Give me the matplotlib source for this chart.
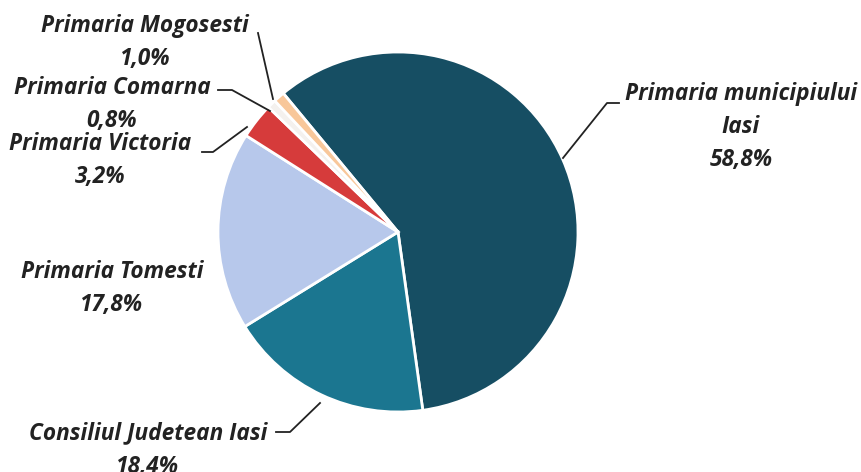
import matplotlib
matplotlib.use('Agg')
import matplotlib.pyplot as plt

# slices, clockwise from the top-left boundary
names  = ["Primaria municipiului\nIasi", "Consiliul Judetean Iasi", "Primaria Tomesti",
          "Primaria Victoria", "Primaria Comarna", "Primaria Mogosesti"]
shares = [58.8, 18.4, 17.8, 3.2, 0.8, 1.0]
colors = ["#164e63", "#1b7690", "#b7c8eb", "#d63b3b", "#f4f1ee", "#f8c79a"]

W, H = 861, 472
CX, CY, R = 398, 232, 180

fig = plt.figure(figsize=(W / 100, H / 100), dpi=100)
ax = fig.add_axes([(CX - R) / W, (H - CY - R) / H, 2 * R / W, 2 * R / H])

ax.pie(shares, colors=colors, startangle=129.6, counterclock=False, radius=1,
       wedgeprops=dict(edgecolor="white", linewidth=2))
ax.set_xlim(-1, 1)
ax.set_ylim(-1, 1)
ax.set_aspect('equal')
ax.axis('off')


def px(x, y):
    return ((x - CX) / R, (CY - y) / R)


# label centres (pixels) and leader polylines
label_pos = [(741, 127), (148, 450), (112, 288), (100, 160), (112, 104), (145, 42)]
leaders = [
    [(619, 103), (607, 103), (563, 158)],
    [(276, 432), (290, 432), (320, 403)],
    None,
    [(202, 152), (213, 152), (247, 127)],
    [(218, 90), (232, 90), (270, 111)],
    [(258, 33), (273, 99)],
]

for name, v, (lx, ly), ld in zip(names, shares, label_pos, leaders):
    txt = f"{name}\n{v:.1f}%".replace(".", ",")
    x, y = px(lx, ly)
    ax.text(x, y, txt, ha="center", va="center", fontsize=16.3, fontweight="bold",
            fontstyle="italic", family="Open Sans", color="#222222", linespacing=1.5,
            clip_on=False)
    if ld:
        xs, ys = zip(*[px(a, b) for a, b in ld])
        ax.plot(xs, ys, color="#222222", lw=1.3, clip_on=False)

fig.savefig("out.png", dpi=100)
